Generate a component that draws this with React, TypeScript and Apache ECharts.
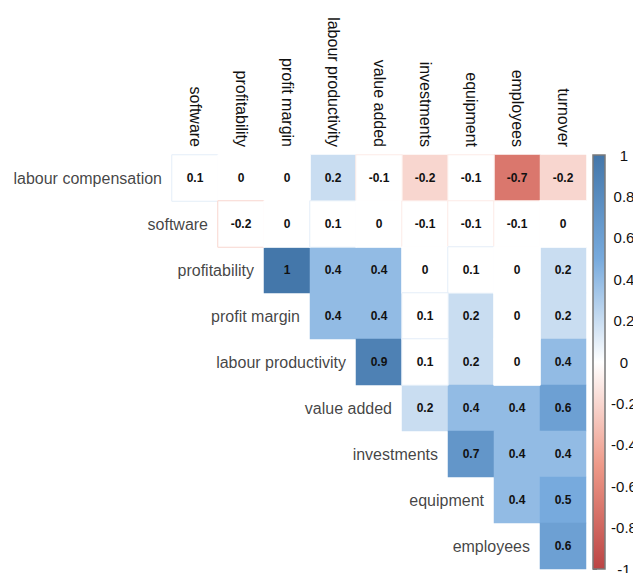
import React, { useEffect, useRef } from "react";
import * as echarts from "echarts";

// Variables along the rows (left) and the columns (top) of the upper triangle
const rowNames = [
  "labour compensation",
  "software",
  "profitability",
  "profit margin",
  "labour productivity",
  "value added",
  "investments",
  "equipment",
  "employees",
];
const colNames = [
  "software",
  "profitability",
  "profit margin",
  "labour productivity",
  "value added",
  "investments",
  "equipment",
  "employees",
  "turnover",
];

// Correlations per row; row i starts at column i
const rowLabourCompensation = [0.1, 0, 0, 0.2, -0.1, -0.2, -0.1, -0.7, -0.2];
const rowSoftware = [-0.2, 0, 0.1, 0, -0.1, -0.1, -0.1, 0];
const rowProfitability = [1, 0.4, 0.4, 0, 0.1, 0, 0.2];
const rowProfitMargin = [0.4, 0.4, 0.1, 0.2, 0, 0.2];
const rowLabourProductivity = [0.9, 0.1, 0.2, 0, 0.4];
const rowValueAdded = [0.2, 0.4, 0.4, 0.6];
const rowInvestments = [0.7, 0.4, 0.4];
const rowEquipment = [0.4, 0.5];
const rowEmployees = [0.6];

// Non-significant coefficients: [row, column]; drawn blank, number kept
const insignificant: [number, number][] = [
  [0, 0], [0, 1], [0, 2], [0, 4], [0, 6],
  [1, 1], [1, 2], [1, 3], [1, 4], [1, 5], [1, 6], [1, 7], [1, 8],
  [2, 5], [2, 6], [2, 7],
  [3, 5], [3, 7],
  [4, 5], [4, 7],
];

const legendTicks = [-1, -0.8, -0.6, -0.4, -0.2, 0, 0.2, 0.4, 0.6, 0.8, 1];

const palette = ["#BB4444", "#EE9988", "#FFFFFF", "#77AADD", "#4477AA"];

const FONT = "Liberation Sans, Arial, Helvetica, sans-serif";

const fmt = (v: number) => String(Math.round(v * 10) / 10);

export default function App() {
  const ref = useRef<HTMLDivElement>(null);

  useEffect(() => {
    if (!ref.current) return;
    const chart = echarts.init(ref.current, undefined, { renderer: "svg" });

    const rows = [
      rowLabourCompensation,
      rowSoftware,
      rowProfitability,
      rowProfitMargin,
      rowLabourProductivity,
      rowValueAdded,
      rowInvestments,
      rowEquipment,
      rowEmployees,
    ];
    const isBlank = (r: number, c: number) =>
      insignificant.some(([a, b]) => a === r && b === c);

    const lerp = (echarts as any).color && (echarts as any).color.lerp;
    const shade = (v: number) =>
      lerp ? lerp((v + 1) / 2, palette) : "#eeeeee";

    const filled: any[] = [];
    const blank: any[] = [];
    rows.forEach((vals, r) => {
      vals.forEach((v, k) => {
        const c = r + k;
        if (isBlank(r, c)) {
          blank.push({
            value: [c, r, v],
            itemStyle: { borderColor: shade(v), borderWidth: 1 },
          });
        } else {
          filled.push([c, r, v]);
        }
      });
    });

    const cellLabel = {
      show: true,
      color: "#111",
      fontSize: 12,
      fontWeight: "bold" as const,
      fontFamily: FONT,
      formatter: (p: any) => fmt(p.value[2]),
    };

    chart.setOption({
      animation: false,
      textStyle: { fontFamily: FONT },
      grid: [
        { left: 172, top: 155, width: 414, height: 414, outerBoundsMode: "none", containLabel: false },
        { left: 593, top: 155, width: 12, height: 414, outerBoundsMode: "none", containLabel: false },
      ],
      xAxis: [
        {
          type: "category",
          data: colNames,
          position: "top",
          gridIndex: 0,
          axisLine: { show: false },
          axisTick: { show: false },
          splitLine: { show: false },
          axisLabel: {
            rotate: 90,
            margin: 8,
            fontSize: 16,
            fontFamily: FONT,
            color: "#111",
            interval: 0,
          },
        },
        { type: "value", gridIndex: 1, show: false, min: 0, max: 1 },
      ],
      yAxis: [
        {
          type: "category",
          data: rowNames,
          inverse: true,
          gridIndex: 0,
          axisLine: { show: false },
          axisTick: { show: false },
          axisLabel: { show: false },
          splitLine: { show: false },
        },
        {
          type: "value",
          gridIndex: 1,
          min: -1,
          max: 1,
          interval: 0.2,
          position: "right",
          axisLine: { show: false },
          splitLine: { show: false },
          axisTick: { show: true, length: 4, lineStyle: { color: "#777", width: 1 } },
          axisLabel: {
            show: true,
            margin: 19,
            align: "center",
            fontSize: 15,
            fontFamily: FONT,
            color: "#111",
            customValues: legendTicks,
            formatter: (v: number) => fmt(v),
          },
        },
      ],
      visualMap: [
        {
          show: false,
          type: "continuous",
          min: -1,
          max: 1,
          dimension: 2,
          seriesIndex: 0,
          inRange: { color: palette },
        },
        {
          // blanked (non-significant) cells stay white
          show: false,
          type: "continuous",
          min: -1,
          max: 1,
          dimension: 2,
          seriesIndex: 1,
          inRange: { color: ["#ffffff", "#ffffff"] },
        },
      ],
      graphic: [
        {
          type: "rect",
          shape: { x: 593, y: 155, width: 12, height: 414 },
          style: {
            fill: new echarts.graphic.LinearGradient(0, 0, 0, 1, [
              { offset: 0, color: palette[4] },
              { offset: 0.25, color: palette[3] },
              { offset: 0.5, color: palette[2] },
              { offset: 0.75, color: palette[1] },
              { offset: 1, color: palette[0] },
            ]),
            stroke: "#7a7a7a",
            lineWidth: 1.5,
          },
          z: 10,
        },
      ],
      series: [
        {
          type: "heatmap",
          xAxisIndex: 0,
          yAxisIndex: 0,
          data: filled,
          label: cellLabel,
          itemStyle: { borderWidth: 0 },
          emphasis: { disabled: true },
        },
        {
          type: "heatmap",
          xAxisIndex: 0,
          yAxisIndex: 0,
          data: blank,
          label: cellLabel,
          emphasis: { disabled: true },
        },
        {
          // Row names placed just left of each row's first cell
          type: "scatter",
          xAxisIndex: 0,
          yAxisIndex: 0,
          symbolSize: 0,
          data: rowNames.map((name, i) => ({ value: [i, i], name })),
          label: {
            show: true,
            position: "left",
            distance: 33,
            fontSize: 16,
            fontFamily: FONT,
            color: "#111",
            formatter: (p: any) => p.name,
          },
          emphasis: { disabled: true },
          silent: true,
        },
      ],
    });

    return () => chart.dispose();
  }, []);

  return (
    <div
      ref={ref}
      style={{ position: "fixed", left: 0, top: 0, width: 633, height: 573, background: "#fff" }}
    />
  );
}
